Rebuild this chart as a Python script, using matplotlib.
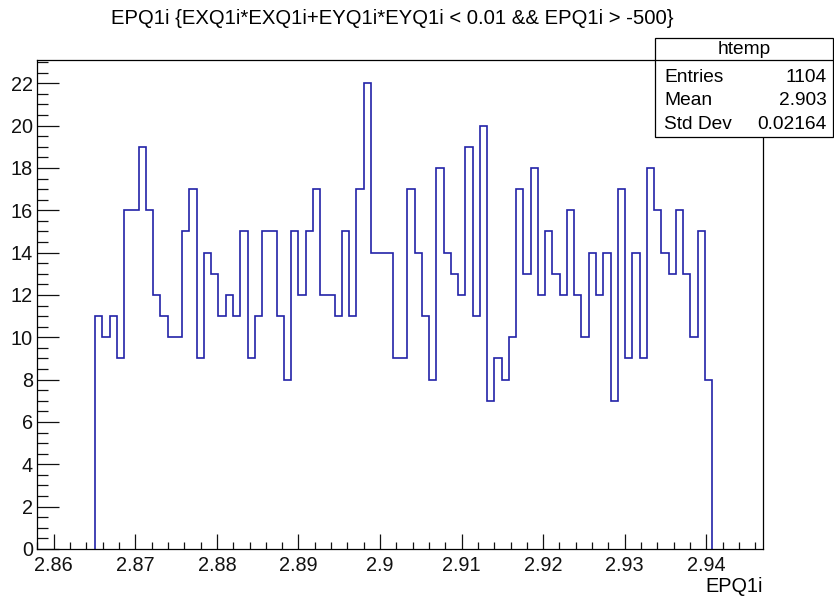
import matplotlib
matplotlib.use('Agg')
import matplotlib.pyplot as plt
from matplotlib.patches import Rectangle
from matplotlib.lines import Line2D
from matplotlib.ticker import MultipleLocator, FuncFormatter
import numpy as np

plt.rcParams['font.family'] = ['Liberation Sans', 'DejaVu Sans']

# htemp: 100 bins over the auto range, filled bins start at bin 8
x_min, x_max = 2.85794, 2.94695
n_bins = 100
first_bin = 8
counts = [11, 10, 11, 9, 16, 16, 19, 16, 12, 11, 10, 10, 15, 17, 9,
          14, 13, 11, 12, 11, 15, 9, 11, 15, 15, 11, 8, 15, 12, 15, 17,
          12, 12, 11, 15, 11, 17, 22,
          14, 14, 14, 9, 9, 17, 14, 11, 8, 18, 14, 13, 12, 19, 11, 20,
          7, 9, 8, 10, 17, 13,
          18, 12, 15, 13, 12, 16, 12, 10, 14, 12, 14, 7, 17, 9, 14, 9,
          18, 16, 14, 13, 16, 13, 10, 15, 8]
y_max = 1.05 * max(counts)

title = 'EPQ1i {EXQ1i*EXQ1i+EYQ1i*EYQ1i < 0.01 && EPQ1i > -500}'
stat_names = ['Entries', 'Mean', 'Std Dev']
stat_values = [f'{sum(counts)}', '2.903', '0.02164']

W, H = 834, 596
fig = plt.figure(figsize=(W / 100, H / 100), dpi=100)
L, R, T, B = 37, 763, 60, 549
ax = fig.add_axes([L / W, 1 - B / H, (R - L) / W, (B - T) / H])

edges = np.linspace(x_min, x_max, n_bins + 1)[first_bin:first_bin + len(counts) + 1]
ax.stairs(counts, edges, baseline=0, color='#2323a8', linewidth=1.2)

ax.set_xlim(x_min, x_max)
ax.set_ylim(0, y_max)

ax.xaxis.set_major_locator(MultipleLocator(0.01))
ax.xaxis.set_minor_locator(MultipleLocator(0.002))
ax.yaxis.set_major_locator(MultipleLocator(2))
ax.yaxis.set_minor_locator(MultipleLocator(0.5))
ax.xaxis.set_major_formatter(FuncFormatter(lambda v, p: f'{round(v, 4):g}'))
ax.yaxis.set_major_formatter(FuncFormatter(lambda v, p: f'{v:g}'))

ax.tick_params(axis='both', which='both', direction='in', top=False, right=False,
               labelsize=14.3, width=0.9, colors='#111111')
ax.tick_params(axis='x', which='major', length=10.5, pad=5)
ax.tick_params(axis='x', which='minor', length=5.3)
ax.tick_params(axis='y', which='major', length=15.8, pad=3)
ax.tick_params(axis='y', which='minor', length=7.9)
for s in ax.spines.values():
    s.set_linewidth(0.9)

fig.text(R / W, 1 - 587 / H, 'EPQ1i', ha='right', va='center', fontsize=14.3)
fig.text(392 / W, 1 - 18 / H, title, ha='center', va='center', fontsize=14.6)

# stats box
bx0, bx1, by0, by1, hdr = 655, 833, 38, 137, 60
fig.patches.append(Rectangle((bx0 / W, 1 - by1 / H), (bx1 - bx0) / W, (by1 - by0) / H,
                             transform=fig.transFigure, facecolor='white',
                             edgecolor='black', linewidth=0.9, zorder=5))
fig.lines.append(Line2D([bx0 / W, bx1 / W], [1 - hdr / H, 1 - hdr / H],
                        transform=fig.transFigure, color='black', linewidth=0.9, zorder=6))
fig.text((bx0 + bx1) / 2 / W, 1 - 50 / H, 'htemp', ha='center', va='center',
         fontsize=13.8, zorder=7)
for i, (n, v) in enumerate(zip(stat_names, stat_values)):
    yy = 1 - (77 + 23.7 * i) / H
    fig.text(664 / W, yy, n, ha='left', va='center', fontsize=13.8, zorder=7)
    fig.text(827 / W, yy, v, ha='right', va='center', fontsize=13.8, zorder=7)

fig.savefig('out.png', dpi=100, facecolor='white')
